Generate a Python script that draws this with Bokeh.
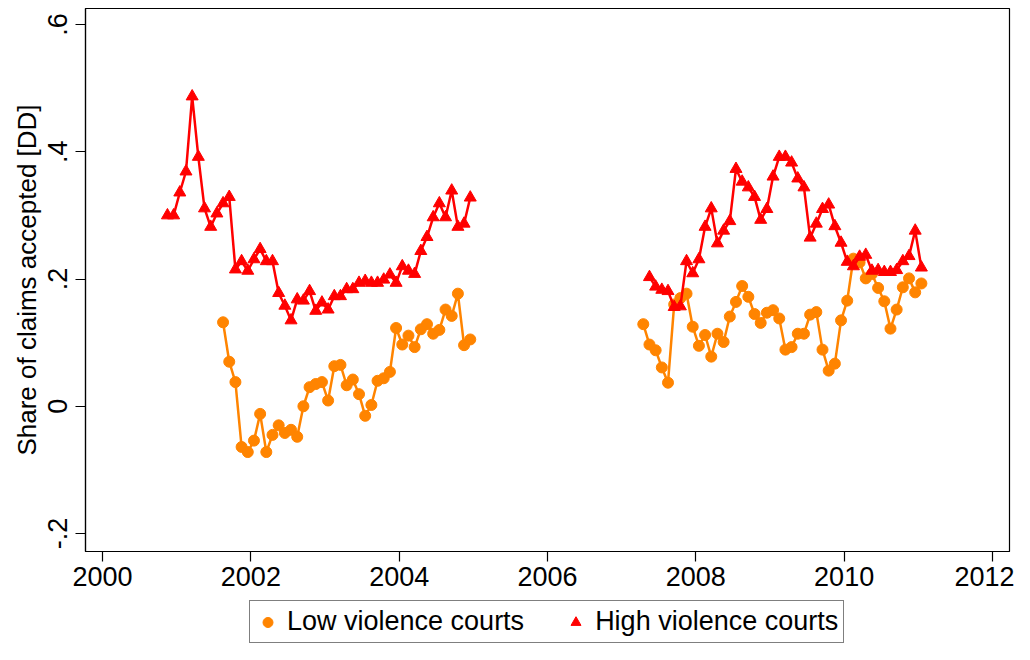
import math
from bokeh.plotting import figure
from bokeh.layouts import column
from bokeh.models import FixedTicker, Legend, LegendItem, Range1d, ColumnDataSource
from bokeh.embed import file_html
from bokeh.resources import INLINE

# ---- data (monthly series, two observation windows) ----
low_p1_start = (2001, 8)
low_p1 = [0.132, 0.070, 0.038, -0.064, -0.072, -0.054, -0.012, -0.072, -0.045, -0.030,
          -0.042, -0.037, -0.048, 0.000, 0.030, 0.035, 0.038, 0.009, 0.063, 0.065,
          0.033, 0.042, 0.019, -0.015, 0.002, 0.040, 0.044, 0.054, 0.123, 0.097,
          0.111, 0.093, 0.121, 0.129, 0.114, 0.120, 0.152, 0.142, 0.177, 0.096, 0.105]
high_p1_start = (2000, 11)
high_p1 = [0.300, 0.300, 0.336, 0.369, 0.487, 0.392, 0.311, 0.282, 0.303, 0.319,
           0.329, 0.215, 0.228, 0.213, 0.231, 0.247, 0.228, 0.228, 0.178, 0.158,
           0.135, 0.168, 0.166, 0.181, 0.150, 0.163, 0.152, 0.173, 0.173, 0.184,
           0.184, 0.194, 0.197, 0.194, 0.194, 0.199, 0.207, 0.194, 0.220, 0.213,
           0.208, 0.244, 0.266, 0.297, 0.319, 0.297, 0.339, 0.282, 0.287, 0.328]
low_p2_start = (2007, 4)
low_p2 = [0.129, 0.097, 0.088, 0.061, 0.037, 0.160, 0.170, 0.177, 0.125, 0.095,
          0.112, 0.078, 0.114, 0.101, 0.141, 0.164, 0.189, 0.172, 0.145, 0.131,
          0.147, 0.151, 0.138, 0.089, 0.093, 0.114, 0.114, 0.144, 0.148, 0.089,
          0.056, 0.067, 0.135, 0.166, 0.232, 0.226, 0.201, 0.208, 0.186, 0.165,
          0.122, 0.152, 0.187, 0.201, 0.179, 0.193]
high_p2_start = (2007, 5)
high_p2 = [0.203, 0.188, 0.183, 0.181, 0.156, 0.157, 0.228, 0.209, 0.231, 0.282,
           0.311, 0.256, 0.276, 0.291, 0.373, 0.353, 0.344, 0.329, 0.293, 0.310,
           0.361, 0.392, 0.392, 0.383, 0.358, 0.344, 0.265, 0.287, 0.310, 0.317,
           0.283, 0.257, 0.227, 0.220, 0.235, 0.238, 0.213, 0.214, 0.211, 0.211,
           0.214, 0.228, 0.236, 0.276, 0.218]

x_ticks = [2000, 2002, 2004, 2006, 2008, 2010, 2012]
y_ticks = [-0.2, 0.0, 0.2, 0.4, 0.6]
y_tick_labels = ["-.2", "0", ".2", ".4", ".6"]
legend_labels = ["Low violence courts", "High violence courts"]
y_title = "Share of claims accepted [DD]"

LOW_COLOR = "#FF8400"
HIGH_COLOR = "#FF0000"
FONT = "Liberation Sans"


def month_dates(start, n):
    y, m = start
    return [y + (m - 1 + k + 0.5) / 12.0 for k in range(n)]


def joined(start1, vals1, start2, vals2):
    xs = month_dates(start1, len(vals1)) + [math.nan] + month_dates(start2, len(vals2))
    ys = list(vals1) + [math.nan] + list(vals2)
    return xs, ys


low_x, low_y = joined(low_p1_start, low_p1, low_p2_start, low_p2)
high_x, high_y = joined(high_p1_start, high_p1, high_p2_start, high_p2)

low_src = ColumnDataSource(dict(x=low_x, y=low_y))
high_src = ColumnDataSource(dict(x=high_x, y=high_y))

# main chart: 1014 x 598, frame 924 x 543 (left 85, right 5, top 8, bottom 47)
p = figure(width=1014, height=598,
           x_range=Range1d(1999.77, 2012.23), y_range=Range1d(-0.2283, 0.6252),
           output_backend="svg", toolbar_location=None,
           min_border_left=85, min_border_right=5, min_border_top=8, min_border_bottom=47)

p.background_fill_color = "white"
p.border_fill_color = "white"
p.outline_line_color = "black"
p.outline_line_width = 1.2
p.xgrid.visible = False
p.ygrid.visible = False

p.line("x", "y", source=low_src, line_color=LOW_COLOR, line_width=2.5)
p.scatter("x", "y", source=low_src, marker="circle", size=11,
          fill_color=LOW_COLOR, line_color=LOW_COLOR)
p.line("x", "y", source=high_src, line_color=HIGH_COLOR, line_width=2.5)
p.scatter("x", "y", source=high_src, marker="triangle", size=12,
          fill_color=HIGH_COLOR, line_color=HIGH_COLOR)

for ax in (p.xaxis[0], p.yaxis[0]):
    ax.axis_line_color = "black"
    ax.axis_line_width = 1.2
    ax.major_tick_line_color = "black"
    ax.major_tick_line_width = 1.2
    ax.major_tick_out = 10
    ax.major_tick_in = 0
    ax.minor_tick_out = 0
    ax.minor_tick_in = 0
    ax.major_label_text_font = FONT
    ax.major_label_text_font_size = "27px"
    ax.major_label_text_color = "black"

p.xaxis.ticker = FixedTicker(ticks=x_ticks)
p.xaxis.major_label_standoff = 5

p.yaxis.ticker = FixedTicker(ticks=y_ticks)
p.yaxis.major_label_overrides = {t: l for t, l in zip(y_ticks, y_tick_labels)}
p.yaxis.major_label_orientation = "vertical"
p.yaxis.major_label_standoff = 8
p.yaxis.axis_label = y_title
p.yaxis.axis_label_text_font = FONT
p.yaxis.axis_label_text_font_size = "26px"
p.yaxis.axis_label_text_font_style = "normal"
p.yaxis.axis_label_text_color = "black"
p.yaxis.axis_label_standoff = 4

# legend strip below the chart (key glyphs sit outside its visible range)
lf = figure(width=1014, height=46, x_range=Range1d(0, 1), y_range=Range1d(0, 1),
            output_backend="svg", toolbar_location=None,
            x_axis_location=None, y_axis_location=None, min_border=0)
lf.outline_line_color = None
lf.xgrid.visible = False
lf.ygrid.visible = False
lf.background_fill_color = "white"
lf.border_fill_color = "white"
low_key = lf.scatter([-5], [-5], marker="circle", size=10,
                     fill_color=LOW_COLOR, line_color=LOW_COLOR)
high_key = lf.scatter([-5], [-5], marker="triangle", size=10,
                      fill_color=HIGH_COLOR, line_color=HIGH_COLOR)

legend = Legend(items=[LegendItem(label=legend_labels[0], renderers=[low_key]),
                       LegendItem(label=legend_labels[1], renderers=[high_key])],
                orientation="horizontal", location=(164, 1))
legend.label_text_font = FONT
legend.label_text_font_size = "27px"
legend.label_text_color = "black"
legend.glyph_width = 25
legend.glyph_height = 30
legend.label_standoff = 7
legend.spacing = 39
legend.padding = 5
legend.margin = 0
legend.border_line_color = "black"
legend.border_line_width = 1
legend.background_fill_color = "white"
legend.background_fill_alpha = 1.0
lf.add_layout(legend, "center")

layout = column(p, lf, spacing=0)
open("out.html", "w").write(file_html(layout, INLINE))
